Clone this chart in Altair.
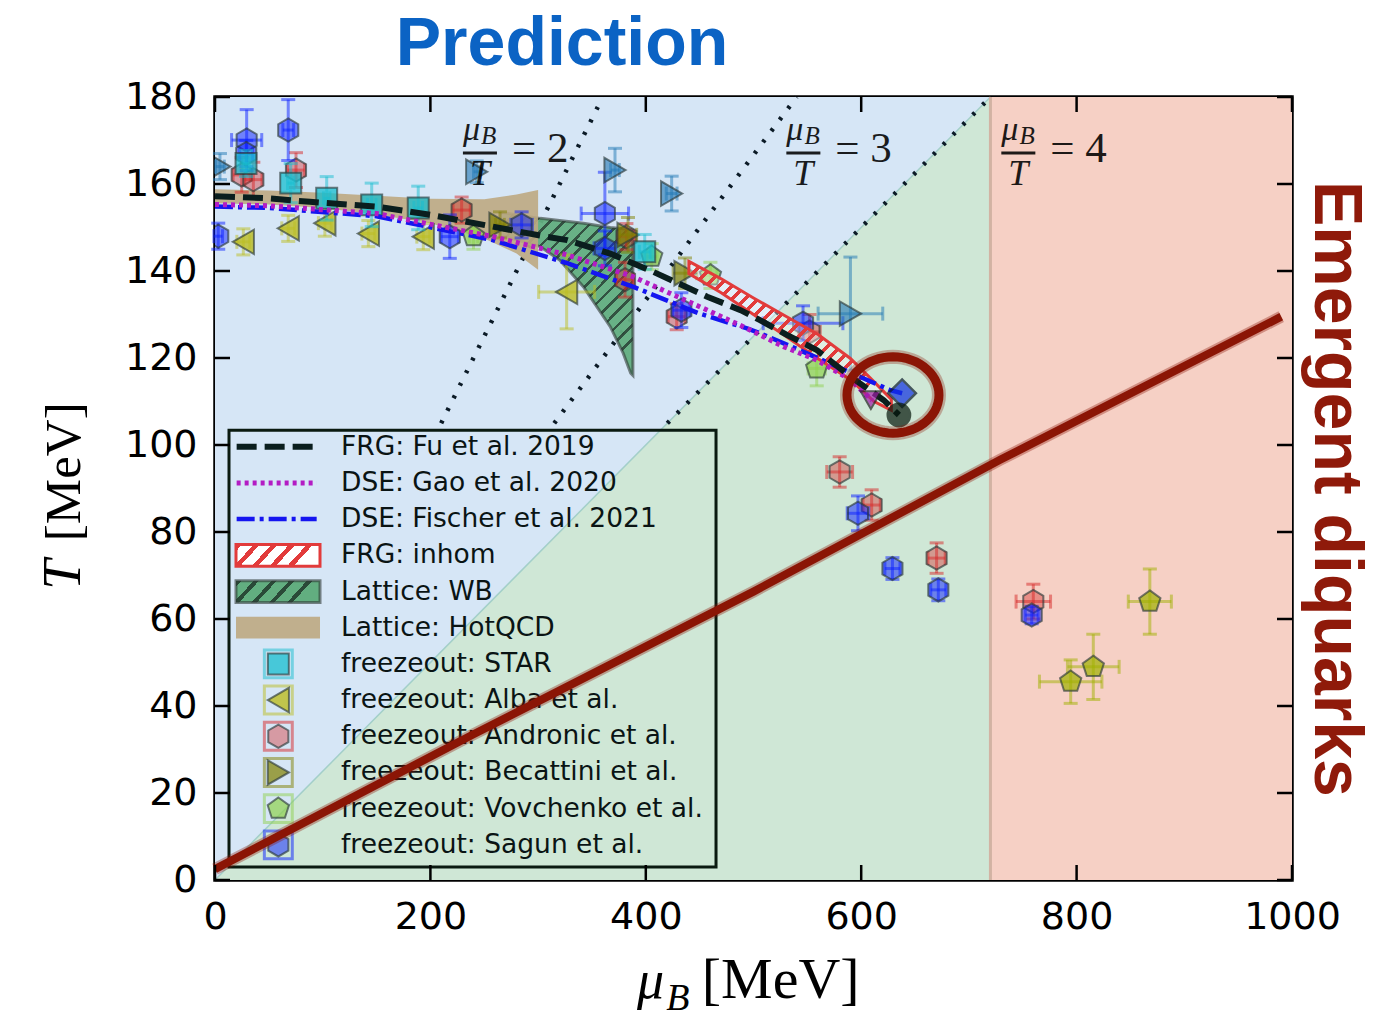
import altair as alt
import numpy as np
import pandas as pd

W, H = 1077, 783

# ---------------- data ----------------
x_ticks = [0, 200, 400, 600, 800, 1000]
y_ticks = [0, 20, 40, 60, 80, 100, 120, 140, 160, 180]

region_split = 720          # where mu_B/T = 4 reaches T = 180
ratio_vals = [2, 3, 4]
ratio_T = [105, 180]

# FRG: Fu et al. 2019
fu_mu = [0, 50, 88, 150, 200, 258, 305, 327, 367, 407, 457, 488, 506, 531, 559, 590, 621, 635]
fu_T = [157.2, 156.7, 155.9, 154.8, 152.9, 150.2, 148.0, 147.1, 144.0, 139.8, 134.1, 131.0, 128.7, 125.3, 121.8, 115.7, 110.3, 106.9]
# DSE: Gao et al. 2020
gao_mu = [0, 50, 150, 258, 327, 388, 450, 494, 528, 559, 590, 610]
gao_T = [155.3, 155.0, 153.2, 147.9, 143.7, 138.7, 131.8, 126.8, 122.6, 119.5, 115.0, 110.3]
# DSE: Fischer et al. 2021
fis_mu = [0, 50, 150, 258, 327, 388, 450, 494, 506, 543, 574, 605, 627, 638]
fis_T = [154.8, 154.5, 152.6, 147.1, 141.8, 136.4, 130.2, 126.8, 125.7, 121.8, 118.4, 115.0, 112.6, 111.9]
# critical end points
cep_fu = ([635], [106.9])
cep_gao = ([609], [110.3])
cep_fis = ([638], [111.9])
ring_center = ([629.5], [111.5])

# FRG: inhom band
inh_mu = [440, 470, 500, 530, 560, 590, 612, 628]
inh_hi = [142.2, 138.2, 133.8, 129.6, 125.4, 119.9, 114.5, 110.5]
inh_lo = [139.4, 135.0, 130.0, 125.0, 119.8, 115.0, 110.0, 108.0]
# Lattice: WB band
wb_mu = [265, 302, 320, 342, 367, 379, 386, 388]
wb_hi = [153.5, 152.1, 151.6, 151.0, 150.0, 149.7, 149.5, 149.4]
wb_lo = [148.2, 145.6, 142.5, 136.4, 127.2, 121.1, 116.5, 116.0]
# Lattice: HotQCD band
hq_mu = [0, 50, 100, 150, 200, 250, 280, 300]
hq_hi = [158.8, 158.5, 158.0, 157.3, 156.6, 156.5, 157.6, 158.6]
hq_lo = [155.6, 155.3, 154.5, 153.0, 151.0, 147.5, 144.0, 140.3]

# emergent diquark line
dq_mu = [0, 240, 500, 729, 990]
dq_T = [2.5, 33.5, 66.3, 96.6, 129.5]

# freeze-out data
star_mu = [28.8, 70.3, 103.7, 145.5, 188.7, 399.0]
star_T = [164.7, 160.2, 156.7, 155.2, 154.5, 144.4]
star_xe = [3, 3, 3, 4, 4, 5]
star_Te = [3, 4.5, 5, 5, 5, 4]

alba_mu = [26.3, 68.0, 102.0, 142.4, 193.4, 326.5]
alba_T = [146.7, 149.8, 151.0, 148.6, 147.9, 135.2]
alba_xe = [6, 6, 6, 6, 6, 26]
alba_Te = [3, 3, 3, 3, 3, 8.5]

andr_mu = [24.8, 35.6, 75.2, 229.0, 382.0, 380.7, 428.7, 552.0, 580.0, 609.7, 670.0, 759.8]
andr_T = [162.1, 161.0, 163.2, 154.0, 147.9, 138.0, 129.5, 126.0, 93.8, 86.2, 74.0, 64.0]
andr_xe = [8, 8, 8, 8, 8, 8, 8, 10, 12, 8, 8, 16]
andr_Te = [4, 4, 4, 3, 3, 4, 3, 4, 3.5, 3.5, 3.5, 4]

becb_mu = [4.6, 243.0, 371.4, 424.0, 590.0]
becb_T = [164.0, 162.8, 163.2, 157.8, 130.2]
becb_xe = [4, 3, 4, 5, 30]
becb_Te = [3, 2.5, 5, 4, 13]

beco_mu = [264.6, 383.5, 436.4]
beco_T = [150.6, 148.3, 139.5]
beco_xe = [4, 8, 11]
beco_Te = [3, 4, 3.5]

vov_mu = [240.0, 405.5, 460.0, 558.7]
vov_T = [148.0, 143.3, 139.0, 117.6]
vov_xe = [4, 5, 6, 8]
vov_Te = [3, 3, 3, 4]

olp_mu = [868.0, 815.5, 794.5]
olp_T = [64.0, 49.0, 45.6]
olp_xe = [20, 24, 29]
olp_Te = [7.5, 7.5, 5]

sag_mu = [29.4, 29.0, 68.0, 3.0, 218.0, 284.7, 362.0, 362.0, 433.0, 546.0, 597.0, 629.0, 671.6, 758.3]
sag_T = [170.1, 167.0, 172.4, 148.0, 147.9, 150.6, 153.2, 145.2, 131.0, 128.0, 84.3, 71.6, 66.7, 60.9]
sag_xe = [14, 6, 5, 4, 8, 10, 22, 10, 8, 37, 10, 7, 7, 6]
sag_Te = [7, 3, 7, 3, 5, 3, 9.5, 4, 4, 4, 4, 2.5, 2.5, 2]

legend_labels = ["FRG: Fu et al. 2019", "DSE: Gao et al. 2020", "DSE: Fischer et al. 2021",
                 "FRG: inhom", "Lattice: WB", "Lattice: HotQCD", "freezeout: STAR",
                 "freezeout: Alba et al.", "freezeout: Andronic et al.", "freezeout: Becattini et al.",
                 "freezeout: Vovchenko et al.", "freezeout: Sagun et al."]

# ---------------- styles ----------------
BLUE_BG, GREEN_BG, RED_BG = "#d6e6f6", "#cfe7d6", "#f6d0c5"
C_STAR, C_ALBA, C_ANDR = "#17becf", "#bcbd22", "#d62728"
C_BECO, C_BECB, C_VOV, C_OLP, C_SAG = "#808000", "#1f77b4", "#8fd14f", "#a0b000", "#0a1eff"
DQ = "#8b1505"

HEX = "M0,-1L0.866,-0.5L0.866,0.5L0,1L-0.866,0.5L-0.866,-0.5Z"
PENT = "M0,-1L0.951,-0.309L0.588,0.809L-0.588,0.809L-0.951,-0.309Z"
_th = np.linspace(0, 2 * np.pi, 61)
ELLIPSE = "M" + "L".join(f"{np.cos(t):.3f},{0.83*np.sin(t):.3f}" for t in _th) + "Z"

xs = alt.Scale(domain=[0, 1000], nice=False, zero=False)
ys = alt.Scale(domain=[0, 180], nice=False, zero=False)
xaxis = alt.Axis(values=x_ticks, format="d", labelFont="DejaVu Sans", labelFontSize=38,
                 labelColor="black", labelPadding=18, labelFlush=False, labelOverlap=False,
                 ticks=False, domain=False, grid=False, title=None)
yaxis = alt.Axis(values=y_ticks, format="d", labelFont="DejaVu Sans", labelFontSize=38,
                 labelColor="black", labelPadding=18, labelFlush=False, labelOverlap=False,
                 ticks=False, domain=False, grid=False, title=None)


def X(f):
    return alt.X(f, type="quantitative", scale=xs, axis=xaxis)


def Y(f):
    return alt.Y(f, type="quantitative", scale=ys, axis=yaxis)


def hatch(fg, bg, n, duty, x2, y2):
    stops = []
    for i in range(n):
        a, b, c = i / n, (i + duty) / n, (i + 1) / n
        stops += [alt.GradientStop(color=fg, offset=a), alt.GradientStop(color=fg, offset=b),
                  alt.GradientStop(color=bg, offset=b), alt.GradientStop(color=bg, offset=c)]
    return alt.LinearGradient(gradient="linear", stops=stops, x1=0, y1=0, x2=x2, y2=y2)


layers = []

# ---------------- background regions ----------------
layers.append(alt.Chart(pd.DataFrame({"a": [0], "b": [region_split], "c": [0], "d": [180]}))
              .mark_rect(color=BLUE_BG).encode(x=X("a"), x2=alt.X2("b"), y=Y("c"), y2=alt.Y2("d")))
green = pd.DataFrame({"mu": [0, region_split], "T": [0, 180], "base": [0, 0]})
layers.append(alt.Chart(green).mark_area(color=GREEN_BG).encode(x=X("mu"), y=Y("T"), y2=alt.Y2("base")))
layers.append(alt.Chart(green).mark_line(color="#a3cfc9", strokeWidth=1.5).encode(x=X("mu"), y=Y("T")))
layers.append(alt.Chart(pd.DataFrame({"a": [region_split], "b": [1000], "c": [0], "d": [180]}))
              .mark_rect(color=RED_BG).encode(x=X("a"), x2=alt.X2("b"), y=Y("c"), y2=alt.Y2("d")))
layers.append(alt.Chart(pd.DataFrame({"a": [region_split], "c": [0], "d": [180]}))
              .mark_rule(color="#d2b3a3", strokeWidth=3).encode(x=X("a"), y=Y("c"), y2=alt.Y2("d")))

# dotted mu/T lines
rat = pd.DataFrame([{"r": r, "T": t, "mu": r * t} for r in ratio_vals for t in ratio_T])
layers.append(alt.Chart(rat).mark_line(color="#0b1a26", strokeWidth=4.5, strokeDash=[3, 11])
              .encode(x=X("mu"), y=Y("T"), detail="r:N"))

# ---------------- lattice bands ----------------
wb = pd.DataFrame({"mu": wb_mu, "hi": wb_hi, "lo": wb_lo})
layers.append(alt.Chart(wb).mark_area(fill=hatch("#2a4a38", "#62ae80", 19, 0.25, 0.82, 1.0),
                                      stroke="#2f3b35", strokeOpacity=0.6, strokeWidth=3, fillOpacity=0.95)
              .encode(x=X("mu"), y=Y("hi"), y2=alt.Y2("lo")))
hq = pd.DataFrame({"mu": hq_mu, "hi": hq_hi, "lo": hq_lo})
layers.append(alt.Chart(hq).mark_area(color="#bea982", opacity=0.9)
              .encode(x=X("mu"), y=Y("hi"), y2=alt.Y2("lo")))


# ---------------- freeze-out points ----------------
def series(mu, T, xe, Te, shape, color, size, err=None, fop=0.6):
    df = pd.DataFrame({"mu": mu, "T": T, "xe": xe, "Te": Te})
    base = alt.Chart(df).transform_calculate(
        xl="datum.mu - datum.xe", xh="datum.mu + datum.xe",
        tl="datum.T - datum.Te", th="datum.T + datum.Te")
    ec = err or color
    out = [
        base.mark_rule(color=ec, strokeWidth=3, opacity=0.5).encode(x=X("xl"), x2=alt.X2("xh"), y=Y("T")),
        base.mark_rule(color=ec, strokeWidth=3, opacity=0.5).encode(x=X("mu"), y=Y("tl"), y2=alt.Y2("th")),
    ]
    for f in ["xl", "xh"]:
        out.append(base.mark_tick(orient="vertical", size=14, thickness=3, color=ec, opacity=0.5)
                   .encode(x=X(f), y=Y("T")))
    for f in ["tl", "th"]:
        out.append(base.mark_tick(orient="horizontal", size=14, thickness=3, color=ec, opacity=0.5)
                   .encode(x=X("mu"), y=Y(f)))
    out.append(base.mark_point(shape=shape, filled=True, size=size, fill=color, fillOpacity=fop,
                               stroke="#2d3a3a", strokeOpacity=0.65, strokeWidth=2, clip=True)
               .encode(x=X("mu"), y=Y("T")))
    return out


layers += series(andr_mu, andr_T, andr_xe, andr_Te, HEX, C_ANDR, 540, fop=0.4)
layers += series(sag_mu, sag_T, sag_xe, sag_Te, HEX, C_SAG, 540, fop=0.5)
layers += series(alba_mu, alba_T, alba_xe, alba_Te, "triangle-left", C_ALBA, 600, fop=0.8)
layers += series(vov_mu, vov_T, vov_xe, vov_Te, PENT, C_VOV, 500, fop=0.7)
layers += series(olp_mu, olp_T, olp_xe, olp_Te, PENT, C_OLP, 500, fop=0.7)
layers += series(becb_mu, becb_T, becb_xe, becb_Te, "triangle-right", C_BECB, 600, fop=0.6)
layers += series(beco_mu, beco_T, beco_xe, beco_Te, "triangle-right", C_BECO, 600, fop=0.7)
layers += series(star_mu, star_T, star_xe, star_Te, "square", C_STAR, 440, fop=0.75)

# ---------------- FRG inhom band ----------------
inh = pd.DataFrame({"mu": inh_mu, "hi": inh_hi, "lo": inh_lo})
layers.append(alt.Chart(inh).mark_area(fill=hatch("#e23b3b", "rgba(255,255,255,0.35)", 24, 0.4, 1.0, 0.74),
                                       stroke="#e23b3b", strokeWidth=3)
              .encode(x=X("mu"), y=Y("hi"), y2=alt.Y2("lo")))

# ---------------- model curves ----------------
layers.append(alt.Chart(pd.DataFrame({"mu": fis_mu, "T": fis_T}))
              .mark_line(color="#1515f0", strokeWidth=4.5, strokeDash=[18, 5, 4, 5])
              .encode(x=X("mu"), y=Y("T")))
layers.append(alt.Chart(pd.DataFrame({"mu": gao_mu, "T": gao_T}))
              .mark_line(color="#b31cc4", strokeWidth=5, strokeDash=[4, 4])
              .encode(x=X("mu"), y=Y("T")))
layers.append(alt.Chart(pd.DataFrame({"mu": fu_mu, "T": fu_T}))
              .mark_line(color="#0a1e1e", strokeWidth=6, strokeDash=[20, 8])
              .encode(x=X("mu"), y=Y("T")))

layers.append(alt.Chart(pd.DataFrame({"mu": cep_fis[0], "T": cep_fis[1]}))
              .mark_point(shape="diamond", filled=True, size=760, fill="#1030e0", stroke="#0a1a2a",
                          strokeWidth=2.5).encode(x=X("mu"), y=Y("T")))
layers.append(alt.Chart(pd.DataFrame({"mu": cep_gao[0], "T": cep_gao[1]}))
              .mark_point(shape="triangle-down", filled=True, size=420, fill="#a020a8", stroke="#222",
                          strokeWidth=2).encode(x=X("mu"), y=Y("T")))
layers.append(alt.Chart(pd.DataFrame({"mu": cep_fu[0], "T": cep_fu[1]}))
              .mark_point(shape="circle", filled=True, size=520, fill="#06180c", stroke="#06180c")
              .encode(x=X("mu"), y=Y("T")))
ring = pd.DataFrame({"mu": ring_center[0], "T": ring_center[1]})
layers.append(alt.Chart(ring).mark_point(shape=ELLIPSE, filled=False, size=8464, stroke=DQ,
                                         strokeWidth=14, opacity=0.3).encode(x=X("mu"), y=Y("T")))
layers.append(alt.Chart(ring).mark_point(shape=ELLIPSE, filled=False, size=8464, stroke=DQ,
                                         strokeWidth=9, opacity=1)
              .encode(x=X("mu"), y=Y("T")))

# ---------------- legend ----------------
leg_T = [99.6 - 8.32 * i for i in range(len(legend_labels))]
layers.append(alt.Chart(pd.DataFrame({"a": [13], "b": [465.2], "c": [3.0], "d": [103.4]}))
              .mark_rect(fillOpacity=0, stroke="#0a1a10", strokeWidth=3)
              .encode(x=X("a"), x2=alt.X2("b"), y=Y("c"), y2=alt.Y2("d")))
line_styles = [("#0a1e1e", 6, [20, 8]), ("#b31cc4", 5, [4, 4]), ("#1515f0", 4.5, [18, 5, 4, 5])]
for i, (c, w, d) in enumerate(line_styles):
    layers.append(alt.Chart(pd.DataFrame({"mu": [20.1, 94.4], "T": [leg_T[i]] * 2}))
                  .mark_line(color=c, strokeWidth=w, strokeDash=d).encode(x=X("mu"), y=Y("T")))
patch_fills = [
    dict(fill=hatch("#e23b3b", "#ffffff", 5, 0.35, 1.0, 0.238), stroke="#e23b3b", strokeWidth=3),
    dict(fill=hatch("#2a4a38", "#62ae80", 5, 0.3, 1.0, 0.238), stroke="#2f3b35", strokeOpacity=0.6, strokeWidth=3),
    dict(fill="#bea982", opacity=0.9),
]
for k, st in enumerate(patch_fills):
    t = leg_T[3 + k]
    layers.append(alt.Chart(pd.DataFrame({"a": [19.5], "b": [97.5], "c": [t - 2.5], "d": [t + 2.5]}))
                  .mark_rect(**st).encode(x=X("a"), x2=alt.X2("b"), y=Y("c"), y2=alt.Y2("d")))
leg_markers = [("square", C_STAR, 440, 0.75), ("triangle-left", C_ALBA, 600, 0.8), (HEX, C_ANDR, 540, 0.4),
               ("triangle-right", C_BECO, 600, 0.7), (PENT, C_VOV, 500, 0.7), (HEX, C_SAG, 540, 0.5)]
for k, (shp, c, s, fo) in enumerate(leg_markers):
    df = pd.DataFrame({"mu": [58.8], "T": [leg_T[6 + k]]})
    layers.append(alt.Chart(df).mark_point(shape="square", filled=False, size=780, stroke=c,
                                           strokeWidth=3, opacity=0.5).encode(x=X("mu"), y=Y("T")))
    layers.append(alt.Chart(df).mark_point(shape=shp, filled=True, size=s, fill=c, fillOpacity=fo,
                                           stroke="#2d3a3a", strokeOpacity=0.65, strokeWidth=2)
                  .encode(x=X("mu"), y=Y("T")))
layers.append(alt.Chart(pd.DataFrame({"x": [117] * len(legend_labels), "T": leg_T, "label": legend_labels}))
              .mark_text(align="left", baseline="middle", font="DejaVu Sans", fontSize=26.5, color="#0a1414")
              .encode(x=X("x"), y=Y("T"), text="label:N"))

# ---------------- emergent diquark line ----------------
dq = pd.DataFrame({"mu": dq_mu, "T": dq_T})
layers.append(alt.Chart(dq).mark_line(color=DQ, strokeWidth=12, opacity=0.35).encode(x=X("mu"), y=Y("T")))
layers.append(alt.Chart(dq).mark_line(color=DQ, strokeWidth=8).encode(x=X("mu"), y=Y("T")))


# ---------------- annotations ----------------
def ann(x, y, text, **style):
    return (alt.Chart(pd.DataFrame({"x": [x], "y": [y]}))
            .mark_text(text=text, **style).encode(x=X("x"), y=Y("y")))


serif = "Liberation Serif"
frac_center = [246.0, 546.3, 745.9]
for c, r in zip(frac_center, ratio_vals):
    common = dict(font=serif, color="black", opacity=0.88)
    layers.append(ann(c - 15.8, 170.1, "μ", align="left", baseline="alphabetic", fontSize=34, fontStyle="italic", **common))
    layers.append(ann(c + 1.0, 169.2, "B", align="left", baseline="alphabetic", fontSize=25, fontStyle="italic", **common))
    layers.append(ann(c, 159.8, "T", align="center", baseline="alphabetic", fontSize=36, fontStyle="italic", **common))
    layers.append(ann(c + 29.7, 165.1, f"= {r}", align="left", baseline="alphabetic", fontSize=43, **common))
    layers.append(alt.Chart(pd.DataFrame({"a": [c - 15.8], "b": [c + 15.8], "y": [167.1]}))
                  .mark_rule(color="black", opacity=0.88, strokeWidth=3)
                  .encode(x=X("a"), x2=alt.X2("b"), y=Y("y")))

layers.append(ann(322.2, 187.4, "Prediction", align="center", baseline="alphabetic",
                  font="Liberation Sans", fontSize=68, fontWeight="bold", color="#0b63c4"))
layers.append(ann(1040, 89.9, "Emergent diquarks", align="center", baseline="middle", angle=90,
                  font="Liberation Sans", fontSize=68, fontWeight="bold", color="#8f1a0a"))
# axis titles
layers.append(ann(391.8, -27.1, "μ", align="left", baseline="alphabetic", font=serif, fontSize=54,
                  fontStyle="italic", color="black"))
layers.append(ann(419.0, -29.9, "B", align="left", baseline="alphabetic", font=serif, fontSize=38,
                  fontStyle="italic", color="black"))
layers.append(ann(452.0, -27.1, "[MeV]", align="left", baseline="alphabetic", font=serif, fontSize=58,
                  color="black"))
layers.append(ann(-125.3, 66.7, "T", align="left", baseline="alphabetic", angle=270, font=serif,
                  fontSize=54, fontStyle="italic", color="black"))
layers.append(ann(-125.3, 77.9, "[MeV]", align="left", baseline="alphabetic", angle=270, font=serif,
                  fontSize=51, color="black"))

# ---------------- inward ticks on all sides ----------------
xt = pd.DataFrame({"v": x_ticks})
yt = pd.DataFrame({"v": y_ticks})
TL = 15
layers.append(alt.Chart(xt).mark_rule(color="black", strokeWidth=2.5)
              .encode(x=X("v"), y=alt.value(H), y2=alt.value(H - TL)))
layers.append(alt.Chart(xt).mark_rule(color="black", strokeWidth=2.5)
              .encode(x=X("v"), y=alt.value(0), y2=alt.value(TL)))
layers.append(alt.Chart(yt).mark_rule(color="black", strokeWidth=2.5)
              .encode(y=Y("v"), x=alt.value(0), x2=alt.value(TL)))
layers.append(alt.Chart(yt).mark_rule(color="black", strokeWidth=2.5)
              .encode(y=Y("v"), x=alt.value(W), x2=alt.value(W - TL)))

chart = (alt.layer(*layers)
         .properties(width=W, height=H, background="white",
                     padding={"left": 215, "top": 97, "right": 86, "bottom": 146},
                     autosize=alt.AutoSizeParams(type="none"))
         .configure_view(stroke="black", strokeWidth=3.5))

chart.save("out.html", embed_options={"renderer": "svg", "actions": False})
